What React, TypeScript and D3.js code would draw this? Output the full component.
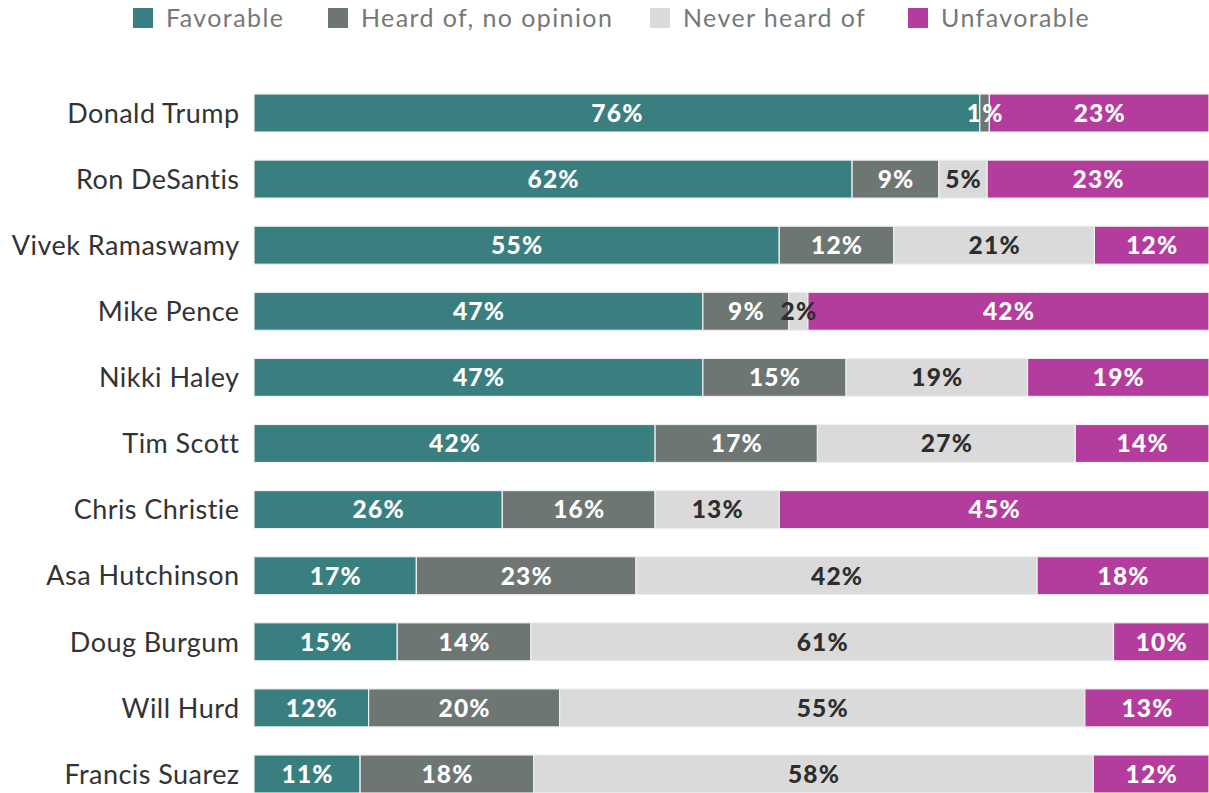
import * as d3 from "d3";
import React, { useEffect, useRef } from "react";

const candidates = [
  "Donald Trump",
  "Ron DeSantis",
  "Vivek Ramaswamy",
  "Mike Pence",
  "Nikki Haley",
  "Tim Scott",
  "Chris Christie",
  "Asa Hutchinson",
  "Doug Burgum",
  "Will Hurd",
  "Francis Suarez",
];
const seriesNames = ["Favorable", "Heard of, no opinion", "Never heard of", "Unfavorable"];
const favorable = [76, 62, 55, 47, 47, 42, 26, 17, 15, 12, 11];
const heardOf = [1, 9, 12, 9, 15, 17, 16, 23, 14, 20, 18];
const neverHeard = [0, 5, 21, 2, 19, 27, 13, 42, 61, 55, 58];
const unfavorable = [23, 23, 12, 42, 19, 14, 45, 18, 10, 13, 12];

const colors = ["#3a7f80", "#6d7673", "#d9dad9", "#b43c9c"];
const labelColors = ["#fff", "#fff", "#2e2e2e", "#fff"];

const W = 1209;
const H = 793;
const FONT = "Lato, sans-serif";

const App: React.FC = () => {
  const ref = useRef<SVGSVGElement | null>(null);

  useEffect(() => {
    if (!ref.current) return;
    const svg = d3.select(ref.current);
    svg.selectAll("*").remove();

    const margin = { top: 94, right: 0, bottom: 0, left: 254 };
    const innerW = W - margin.left - margin.right;

    const rows = candidates.map((name, i) => ({
      name,
      "Favorable": favorable[i],
      "Heard of, no opinion": heardOf[i],
      "Never heard of": neverHeard[i],
      "Unfavorable": unfavorable[i],
    }));

    // shares are normalised per row (some rows sum to 99)
    const stack = d3
      .stack<any>()
      .keys(seriesNames)
      .offset(d3.stackOffsetExpand);
    const layers = stack(rows);

    const x = d3.scaleLinear().domain([0, 1]).range([0, innerW]);
    const y = d3
      .scaleBand()
      .domain(candidates)
      .range([margin.top, H])
      .paddingInner(0.425)
      .paddingOuter(0);

    const g = svg.append("g").attr("transform", `translate(${margin.left},0)`);

    layers.forEach((layer, li) => {
      g.append("g")
        .selectAll("rect")
        .data(layer)
        .enter()
        .append("rect")
        .attr("x", (d) => x(d[0]))
        .attr("y", (d) => y(d.data.name)!)
        .attr("width", (d) => Math.max(0, x(d[1]) - x(d[0])))
        .attr("height", y.bandwidth())
        .attr("fill", colors[li])
        .attr("stroke", "#eef0ef")
        .attr("stroke-width", 1.2);
    });

    // value labels
    const ls = 1.2;
    layers.forEach((layer, li) => {
      g.append("g")
        .selectAll("text")
        .data(layer.filter((d) => d.data[seriesNames[li]] > 0))
        .enter()
        .append("text")
        .attr("x", (d) => (x(d[0]) + x(d[1])) / 2 + ls / 2)
        .attr("y", (d) => y(d.data.name)! + y.bandwidth() / 2)
        .attr("dy", "0.36em")
        .attr("text-anchor", "middle")
        .attr("fill", labelColors[li])
        .style("font-family", FONT)
        .style("font-weight", 900)
        .style("font-size", "24.5px")
        .style("letter-spacing", `${ls}px`)
        .text((d) => `${d.data[seriesNames[li]]}%`);
    });

    // category labels
    svg
      .append("g")
      .selectAll("text")
      .data(candidates)
      .enter()
      .append("text")
      .attr("x", 239.5)
      .attr("y", (d) => y(d)! + y.bandwidth() / 2)
      .attr("dy", "0.36em")
      .attr("text-anchor", "end")
      .attr("fill", "#333")
      .style("font-family", FONT)
      .style("font-size", "27px")
      .style("letter-spacing", "0.45px")
      .text((d) => d);

    // legend
    const legendX = [133, 328, 650, 908];
    const lg = svg.append("g");
    seriesNames.forEach((s, i) => {
      lg.append("rect")
        .attr("x", legendX[i])
        .attr("y", 8)
        .attr("width", 20)
        .attr("height", 20)
        .attr("fill", colors[i]);
      lg.append("text")
        .attr("x", legendX[i] + 33)
        .attr("y", 18)
        .attr("dy", "0.36em")
        .attr("fill", "#777")
        .style("font-family", FONT)
        .style("font-size", "25px")
        .style("letter-spacing", "1.4px")
        .text(s);
    });
  }, []);

  return (
    <svg
      ref={ref}
      width={W}
      height={H}
      style={{ position: "absolute", left: 0, top: 0, background: "#fff" }}
    ></svg>
  );
};

export default App;
